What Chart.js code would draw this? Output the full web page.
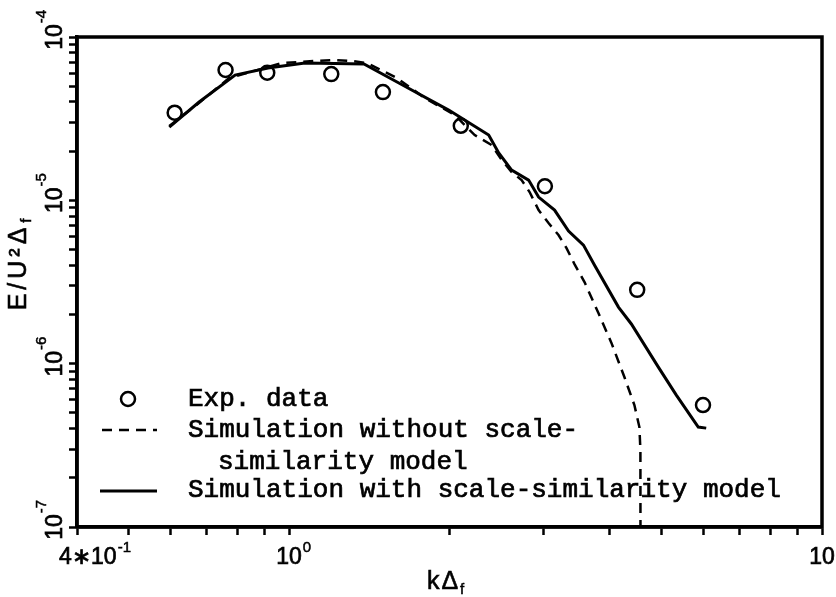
<!DOCTYPE html>
<html lang="en">
<head>
  <meta charset="UTF-8">
  <title>Energy spectrum</title>
  <script src="https://cdn.jsdelivr.net/npm/chart.js"></script>
  <style>
    body { margin: 0; background: #fff; }
    canvas { display: block; }
  </style>
</head>
<body>
  <canvas id="spectrum" width="836" height="597"></canvas>

  <script>
    // Experimental spectrum
    const expK = [0.61, 0.76, 0.91, 1.2, 1.5, 2.1, 3.02, 4.5, 5.98];
    const expE = [3.44e-5, 6.28e-5, 6.04e-5, 5.93e-5, 4.6e-5, 2.86e-5, 1.22e-5, 2.83e-6, 5.58e-7];

    // LES with the scale-similarity model
    const ssK = [0.596, 0.678, 0.792, 0.913, 1.071, 1.382, 1.607, 1.993, 2.369, 2.474, 2.616, 2.815,
                 2.939, 3.149, 3.345, 3.568, 3.741, 4.15, 4.388, 4.931, 5.329, 5.859, 6.064];
    const ssE = [2.81e-5, 4.0e-5, 5.85e-5, 6.46e-5, 6.93e-5, 6.83e-5, 5.23e-5, 3.57e-5, 2.51e-5, 1.95e-5,
                 1.53e-5, 1.33e-5, 1.047e-5, 8.72e-6, 6.49e-6, 5.32e-6, 4.02e-6, 2.22e-6, 1.75e-6,
                 9.53e-7, 6.42e-7, 4.09e-7, 4.03e-7];

    // LES without it (drops off the bottom of the plot)
    const noSsK = [0.596, 0.681, 0.772, 0.97, 1.119, 1.219, 1.312, 1.4, 1.593, 1.798, 2.046, 2.23, 2.399,
                   2.505, 2.616, 2.731, 2.827, 2.939, 3.068, 3.203, 3.316, 3.432, 3.584, 3.806, 4.026,
                   4.258, 4.446, 4.543, 4.563, 4.565];
    const noSsE = [2.85e-5, 4.0e-5, 5.61e-5, 6.93e-5, 7.13e-5, 7.23e-5, 7.13e-5, 6.93e-5, 5.61e-5, 4.23e-5,
                   3.33e-5, 2.51e-5, 2.18e-5, 1.77e-5, 1.49e-5, 1.33e-5, 1.124e-5, 8.72e-6, 7.26e-6,
                   6.13e-6, 5.1e-6, 4.07e-6, 3.16e-6, 2.04e-6, 1.34e-6, 8.28e-7, 5.58e-7, 4.09e-7,
                   2.96e-7, 5e-8];

    // labelled ticks
    const xLabelTicks = [0.4, 1, 10];
    const xLabelBase = ['4\u221710', '10', '10'];
    const xLabelExp = ['-1', '0', '1'];
    const yLabelTicks = [1e-4, 1e-5, 1e-6, 1e-7];
    const yLabelExp = ['-4', '-5', '-6', '-7'];

    const legendRows = ['Exp. data', 'Simulation without scale-', 'similarity model',
                        'Simulation with scale-similarity model'];

    const SANS = '"Liberation Sans", "DejaVu Sans", sans-serif';
    const MONO = '"Liberation Mono", "DejaVu Sans Mono", monospace';

    const pairs = (xs, ys) => xs.map((x, i) => ({ x: x, y: ys[i] }));

    // every 1..9 x 10^n between lo and hi
    function decadeTicks(lo, hi) {
      const out = [];
      for (let e = Math.floor(Math.log10(lo)); e <= Math.ceil(Math.log10(hi)); e++) {
        for (let m = 1; m < 10; m++) {
          const v = m * Math.pow(10, e);
          if (v >= lo * 0.999 && v <= hi * 1.001) out.push({ value: v });
        }
      }
      return out;
    }

    // filled + thin stroke, a bit heavier than plain fillText
    function inkText(ctx, s, x, y, w) {
      ctx.fillText(s, x, y);
      ctx.lineWidth = w;
      ctx.strokeText(s, x, y);
    }

    const annotations = {
      id: 'annotations',
      afterDraw(chart) {
        const ctx = chart.ctx;
        const a = chart.chartArea;
        const xs = chart.scales.x, ys = chart.scales.y;
        ctx.save();
        ctx.fillStyle = '#000';
        ctx.strokeStyle = '#000';

        // frame
        ctx.lineWidth = 3.5;
        ctx.strokeRect(a.left, a.top, a.width, a.height);

        // x tick labels
        ctx.textAlign = 'left';
        ctx.textBaseline = 'alphabetic';
        xLabelTicks.forEach((v, i) => {
          const px = xs.getPixelForValue(v);
          ctx.font = '23px ' + SANS;
          const w = ctx.measureText(xLabelBase[i]).width;
          const tw = ctx.measureText('10').width;
          const left = Math.max(px - w + tw / 2, px - 18);
          inkText(ctx, xLabelBase[i], left, a.bottom + 37, 0.7);
          ctx.font = '15px ' + SANS;
          inkText(ctx, xLabelExp[i], left + w + 1, a.bottom + 25, 0.5);
        });

        // y tick labels, rotated
        yLabelTicks.forEach((v, i) => {
          const py = ys.getPixelForValue(v);
          ctx.save();
          ctx.translate(a.left - 15, py);
          ctx.rotate(-Math.PI / 2);
          ctx.font = '23px ' + SANS;
          const tw = ctx.measureText('10').width;
          inkText(ctx, '10', -tw / 2, 0, 0.7);
          ctx.font = '15px ' + SANS;
          inkText(ctx, yLabelExp[i], tw / 2 + 1, -16, 0.5);
          ctx.restore();
        });

        // axis titles
        ctx.letterSpacing = '2px';
        ctx.font = '25px ' + SANS;
        const kw = ctx.measureText('k\u0394').width;
        const kx = (a.left + a.right) / 2 - kw / 2 - 6;
        inkText(ctx, 'k\u0394', kx, a.bottom + 62, 0.6);
        ctx.font = '15px ' + SANS;
        inkText(ctx, 'f', kx + kw, a.bottom + 67, 0.5);

        ctx.save();
        ctx.translate(26, 262);
        ctx.rotate(-Math.PI / 2);
        ctx.letterSpacing = '4px';
        ctx.font = '25px ' + SANS;
        const ew = ctx.measureText('E/U\u00b2\u0394').width;
        inkText(ctx, 'E/U\u00b2\u0394', -ew / 2 - 5, 0, 0.6);
        ctx.font = '15px ' + SANS;
        inkText(ctx, 'f', ew / 2 - 4, 5, 0.5);
        ctx.restore();
        ctx.letterSpacing = '0px';

        // legend
        ctx.lineWidth = 2.5;
        ctx.beginPath();
        ctx.arc(128, 399, 7, 0, Math.PI * 2);
        ctx.stroke();

        ctx.setLineDash([10, 7]);
        ctx.beginPath();
        ctx.moveTo(102, 430);
        ctx.lineTo(157, 430);
        ctx.stroke();
        ctx.setLineDash([]);

        ctx.lineWidth = 3;
        ctx.beginPath();
        ctx.moveTo(100, 491);
        ctx.lineTo(157, 491);
        ctx.stroke();

        ctx.font = '26px ' + MONO;
        ctx.textBaseline = 'middle';
        inkText(ctx, legendRows[0], 188, 399, 0.7);
        inkText(ctx, legendRows[1], 188, 430, 0.7);
        inkText(ctx, legendRows[2], 218, 462, 0.7);
        inkText(ctx, legendRows[3], 188, 490, 0.7);
        ctx.restore();
      }
    };

    const axisStyle = {
      type: 'logarithmic',
      ticks: { display: false },
      grid: { drawOnChartArea: false, drawTicks: true, tickLength: 8, tickWidth: 2.5, tickColor: '#000' },
      border: { display: true, color: '#000', width: 3.5 }
    };

    new Chart(document.getElementById('spectrum'), {
      type: 'line',
      data: {
        datasets: [
          {
            label: 'Exp. data',
            data: pairs(expK, expE),
            showLine: false,
            pointStyle: 'circle',
            pointRadius: 7,
            pointBorderWidth: 2.5,
            pointBorderColor: '#000',
            pointBackgroundColor: 'rgba(0,0,0,0)'
          },
          {
            label: 'Simulation without scale-similarity model',
            data: pairs(noSsK, noSsE),
            borderColor: '#000',
            borderWidth: 2.5,
            borderDash: [10, 7],
            pointRadius: 0,
            tension: 0
          },
          {
            label: 'Simulation with scale-similarity model',
            data: pairs(ssK, ssE),
            borderColor: '#000',
            borderWidth: 3,
            pointRadius: 0,
            tension: 0
          }
        ]
      },
      options: {
        responsive: false,
        animation: false,
        devicePixelRatio: 1,
        layout: { padding: { top: 37, right: 14, left: 0, bottom: 0 } },
        plugins: { legend: { display: false }, tooltip: { enabled: false } },
        scales: {
          x: Object.assign({}, axisStyle, {
            min: 0.4, max: 10,
            afterBuildTicks: s => { s.ticks = decadeTicks(0.4, 10); },
            afterFit: s => { s.height = 70; }
          }),
          y: Object.assign({}, axisStyle, {
            min: 1e-7, max: 1e-4,
            afterBuildTicks: s => { s.ticks = decadeTicks(1e-7, 1e-4); },
            afterFit: s => { s.width = 77; }
          })
        }
      },
      plugins: [annotations]
    });
  </script>
</body>
</html>
